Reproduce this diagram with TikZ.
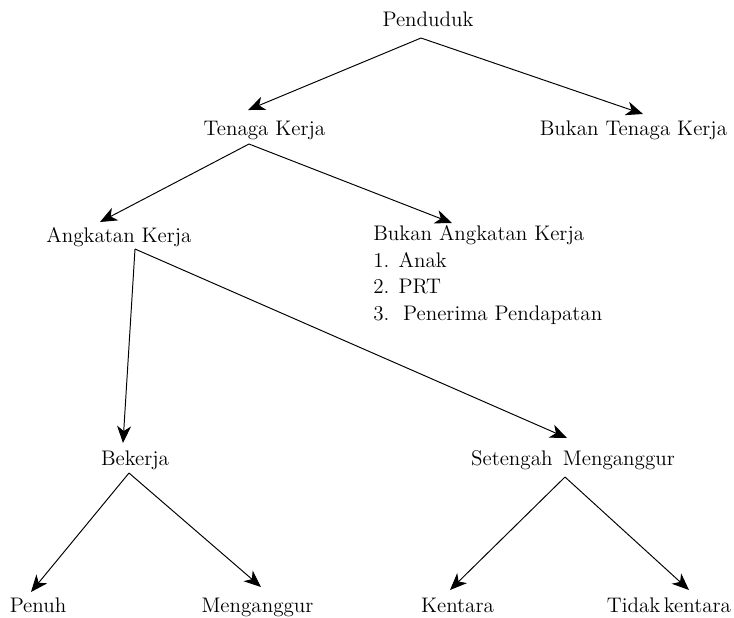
\documentclass[tikz,border=0pt]{standalone}
\usepackage{tikz}
\usetikzlibrary{arrows.meta, positioning}

\begin{document}
\begin{tikzpicture}[
    lbl/.style={font=\large, inner sep=0pt, anchor=base},
    lst/.style={font=\fontsize{12}{15}\selectfont, inner sep=0pt, anchor=base west, align=left},
    arrow/.style={-{Stealth[length=3.4mm, width=2.8mm, inset=1mm]}, line width=0.55pt}
]
\useasboundingbox (0,0) rectangle (14.68,-12.34);

% Levels
\node[lbl] at (8.56,-0.52) (pend) {Penduduk};
\node[lbl] at (5.29,-2.70) (tk) {Tenaga Kerja};
\node[lbl] at (12.67,-2.70) (btk) {Bukan Tenaga Kerja};
\node[lbl] at (2.38,-4.84) (ak) {Angkatan Kerja};
\node[lst] at (7.46,-6.40) (bak) {Bukan Angkatan Kerja\\1. Anak\\2. PRT\\3.\ \ Penerima Pendapatan};
\node[lbl] at (2.70,-9.30) (bek) {Bekerja};
\node[lbl] at (11.46,-9.30) (sm) {Setengah\ \,Menganggur};
\node[lbl] at (0.76,-12.24) (pen) {Penuh};
\node[lbl] at (5.15,-12.24) (men) {Menganggur};
\node[lbl] at (9.15,-12.24) (ken) {Kentara};
\node[lbl] at (13.38,-12.24) (tkn) {Tidak\,kentara};

% Arrows
\draw[arrow] ([shift={(-0.14,-0.24)}]pend.base) -- ([shift={(-0.33,0.50)}]tk.base);
\draw[arrow] ([shift={(-0.14,-0.24)}]pend.base) -- ([shift={(0.19,0.42)}]btk.base);

\draw[arrow] ([shift={(-0.31,-0.18)}]tk.base) -- ([shift={(-0.38,0.40)}]ak.base);
\draw[arrow] ([shift={(-0.31,-0.18)}]tk.base) -- ([shift={(1.58,1.94)}]bak.base west);

\draw[arrow] ([shift={(0.32,-0.14)}]ak.base) -- ([shift={(-0.24,0.44)}]bek.base);
\draw[arrow] ([shift={(0.32,-0.14)}]ak.base) -- ([shift={(-0.12,0.54)}]sm.base);

\draw[arrow] ([shift={(-0.12,-0.16)}]bek.base) -- ([shift={(-0.14,0.40)}]pen.base);
\draw[arrow] ([shift={(-0.12,-0.16)}]bek.base) -- ([shift={(0.07,0.50)}]men.base);

\draw[arrow] ([shift={(-0.16,-0.24)}]sm.base) -- ([shift={(-0.15,0.44)}]ken.base);
\draw[arrow] ([shift={(-0.16,-0.24)}]sm.base) -- ([shift={(0.40,0.44)}]tkn.base);

\end{tikzpicture}
\end{document}
